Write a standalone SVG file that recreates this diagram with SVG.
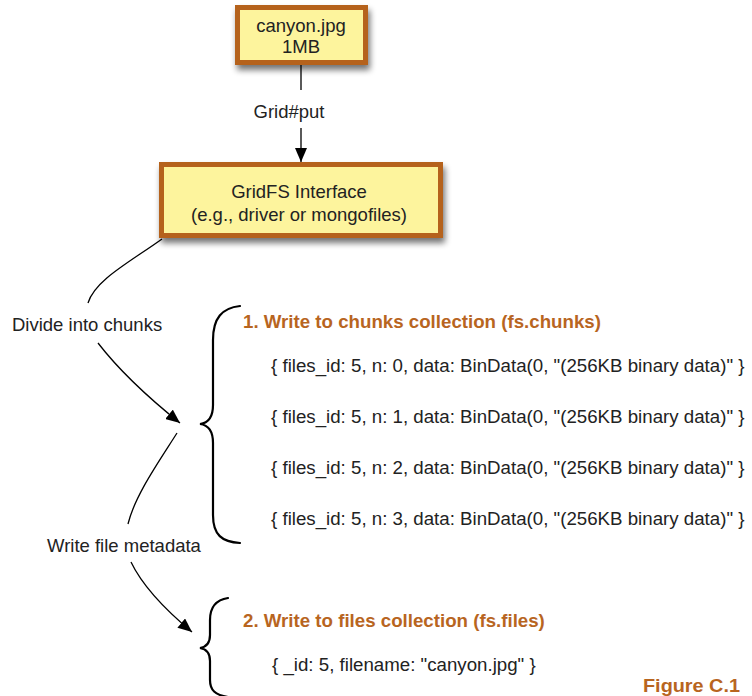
<svg xmlns="http://www.w3.org/2000/svg" width="752" height="696" viewBox="0 0 752 696">
<style>
  .lbl { font-family: "Liberation Sans", Arial, sans-serif; font-size: 18.5px; fill: #222; }
  .code { font-family: "Liberation Sans", Arial, sans-serif; font-size: 18.7px; fill: #222; }
  .box { fill: #fdf49d; stroke: #b5621b; stroke-width: 5; }
  .head { font-family: "Liberation Sans", Arial, sans-serif; font-size: 18.7px; font-weight: bold; fill: #b8651f; }
  .conn { fill: none; stroke: #000; stroke-width: 1.3; }
  .brace { fill: none; stroke: #000; stroke-width: 2.2; stroke-linecap: round; }
</style>
<defs>
  <filter id="sh" x="-20%" y="-20%" width="150%" height="160%">
    <feGaussianBlur in="SourceAlpha" stdDeviation="3"/>
    <feOffset dx="2" dy="5" result="b"/>
    <feComponentTransfer><feFuncA type="linear" slope="0.55"/></feComponentTransfer>
    <feMerge><feMergeNode/><feMergeNode in="SourceGraphic"/></feMerge>
  </filter>
  <marker id="arr2" viewBox="0 0 14 12" refX="14" refY="6" markerWidth="14" markerHeight="12" markerUnits="userSpaceOnUse" orient="auto">
    <path d="M0,0 L14,6 L0,12 z" fill="#000"/>
  </marker>
</defs>
<rect width="752" height="696" fill="#fff"/>

<g id="connectors">
  <line class="conn" x1="301" y1="65" x2="301" y2="90"/>
  <line class="conn" x1="301" y1="128" x2="301" y2="162" marker-end="url(#arr2)"/>
  <path class="conn" d="M162,239 C130,262 95,280 88,303"/>
  <path class="conn" d="M98,343 C115,365 145,395 180,423" marker-end="url(#arr2)"/>
  <path class="conn" d="M177,433 C160,460 135,495 128,524"/>
  <path class="conn" d="M131,562 C142,585 162,607 192,632" marker-end="url(#arr2)"/>
</g>

<g id="node-canyon">
  <rect class="box" x="237.5" y="7.5" width="128" height="55" filter="url(#sh)"/>
  <text class="lbl" x="301" y="31.5" text-anchor="middle">canyon.jpg</text>
  <text class="lbl" x="301" y="52.5" text-anchor="middle">1MB</text>
</g>

<g id="label-gridput">
  <text class="lbl" x="289" y="117.5" text-anchor="middle">Grid#put</text>
</g>

<g id="node-gridfs">
  <rect class="box" x="161.5" y="164.5" width="279" height="71" filter="url(#sh)"/>
  <text class="lbl" x="299" y="197.5" text-anchor="middle">GridFS Interface</text>
  <text class="lbl" x="299" y="220.5" text-anchor="middle">(e.g., driver or mongofiles)</text>
</g>

<g id="label-divide">
  <text class="lbl" x="12" y="330.5">Divide into chunks</text>
</g>
<g id="label-write">
  <text class="lbl" x="47" y="551.5">Write file metadata</text>
</g>

<g id="chunks">
  <path class="brace" d="M240,306 C222,308 213,318 213,340 L213,405 C213,418 208,423 200,424 C208,425 213,430 213,443 L213,515 C213,535 222,542 240,543"/>
  <text class="head" x="243" y="327.5">1. Write to chunks collection (fs.chunks)</text>
  <text class="code" x="271" y="371.5">{ files_id: 5, n: 0, data: BinData(0, "(256KB binary data)" }</text>
  <text class="code" x="271" y="422.5">{ files_id: 5, n: 1, data: BinData(0, "(256KB binary data)" }</text>
  <text class="code" x="271" y="473.5">{ files_id: 5, n: 2, data: BinData(0, "(256KB binary data)" }</text>
  <text class="code" x="271" y="524.5">{ files_id: 5, n: 3, data: BinData(0, "(256KB binary data)" }</text>
</g>

<g id="files">
  <path class="brace" d="M228,598 C215,600 210,608 210,620 L210,635 C210,644 206,647 200,648 C206,649 210,652 210,661 L210,680 C210,690 215,695 228,697"/>
  <text class="head" x="243" y="626.5">2. Write to files collection (fs.files)</text>
  <text class="code" x="272" y="670.5">{ _id: 5, filename: "canyon.jpg" }</text>
</g>

<g id="caption">
  <text x="643" y="692" font-family="'Liberation Sans Narrow', 'Liberation Sans', Arial, sans-serif" font-size="18.5" font-weight="bold" fill="#b8651f" textLength="97" lengthAdjust="spacingAndGlyphs">Figure C.1</text>
</g>
</svg>
